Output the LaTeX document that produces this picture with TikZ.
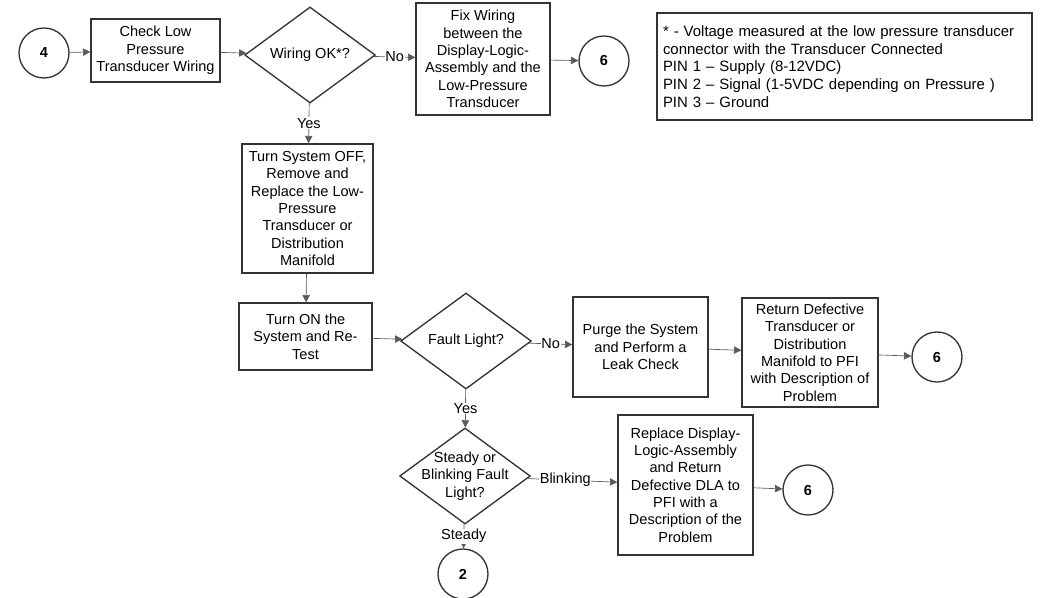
\documentclass[tikz,border=0pt]{standalone}
\usepackage{fontspec}
\setmainfont{Liberation Sans}
\usetikzlibrary{shapes.geometric,arrows.meta}
\begin{document}
\begin{tikzpicture}[x=0.75pt,y=-0.75pt,
  ink/.style={draw=black!80, line width=1pt},
  txt/.style={font=\fontsize{10.9}{13}\selectfont, text=black, align=center},
  stepbox/.style={ink, txt, inner sep=0pt},
  decision/.style={ink, diamond, inner sep=0pt, minimum width=98pt, minimum height=72pt},
  conn/.style={circle, ink, txt, minimum size=37.5pt, inner sep=0pt},
  flow/.style={draw=black!65, line width=0.5pt, -{Triangle[length=5.5pt,width=5.5pt]}},
  lbl/.style={txt, fill=white, inner sep=0.5pt}]
\useasboundingbox (0,0) rectangle (1047,598);

% first row: wiring check
\node[conn] (c4) at (44,53) {\textbf{4}};
\node[stepbox, minimum width=96.75pt, minimum height=47.25pt] (b1) at (155.5,50.5)
  {Check Low\\Pressure\\Transducer Wiring};
\node[decision, label={[txt]center:Wiring OK*?}] (d1) at (310,55) {};
\node[stepbox, minimum width=100.5pt, minimum height=84pt] (fix) at (483,59)
  {Fix Wiring\\between the\\Display-Logic-\\Assembly and the\\Low-Pressure\\Transducer};
\node[conn] (c6a) at (604,61) {\textbf{6}};

% footnote on the measurement
\node[ink, font=\fontsize{11.2}{13.3}\selectfont, text=black, align=left,
  text width=272.25pt, inner xsep=4.5pt, inner ysep=0pt, minimum height=80.25pt]
  (note) at (844.5,66.5)
  {* - Voltage measured at the low pressure transducer\\
   connector with the Transducer Connected\\
   PIN 1 – Supply (8-12VDC)\\
   PIN 2 – Signal (1-5VDC depending on Pressure )\\
   PIN 3 – Ground};

% replacement and retest
\node[stepbox, minimum width=98.25pt, minimum height=96.75pt] (b2) at (307.5,208.5)
  {Turn System OFF,\\Remove and\\Replace the Low-\\Pressure\\Transducer or\\Distribution\\Manifold};
\node[stepbox, minimum width=99.75pt, minimum height=50.25pt] (b3) at (305.5,336.5)
  {Turn ON the\\System and Re-\\Test};
\node[decision, label={[txt]center:Fault Light?}] (d2) at (466,341) {};
\node[stepbox, minimum width=101.25pt, minimum height=75pt] (purge) at (640.5,347)
  {Purge the System\\and Perform a\\Leak Check};
\node[stepbox, minimum width=102pt, minimum height=81.75pt] (ret) at (810,352.5)
  {Return Defective\\Transducer or\\Distribution\\Manifold to PFI\\with Description of\\Problem};
\node[conn] (c6b) at (937,357) {\textbf{6}};

% fault light behaviour
\node[decision, label={[txt]center:{Steady or\\Blinking Fault\\Light?}}] (d3) at (465,476) {};
\node[stepbox, minimum width=101.25pt, minimum height=105pt] (rep) at (685.5,485)
  {Replace Display-\\Logic-Assembly\\and Return\\Defective DLA to\\PFI with a\\Description of the\\Problem};
\node[conn] (c6c) at (808,490) {\textbf{6}};
\node[conn] (c2) at (463,574) {\textbf{2}};

% connectors
\draw[flow] (c4) -- (b1);
\draw[flow] (b1) -- (d1);
\draw[flow] (d1) -- node[lbl]{No} (fix);
\draw[flow] (fix) -- (c6a);
\draw[flow] (d1) -- node[lbl]{Yes} (b2);
\draw[flow] (b2) -- (b3);
\draw[flow] (b3) -- (d2);
\draw[flow] (d2) -- node[lbl]{No} (purge);
\draw[flow] (purge) -- (ret);
\draw[flow] (ret) -- (c6b);
\draw[flow] (d2) -- node[lbl]{Yes} (d3);
\draw[flow] (d3) -- node[lbl, pos=0.42]{Blinking} (rep);
\draw[flow] (rep) -- (c6c);
\draw[flow] (d3) -- node[lbl, pos=0.5]{Steady} (c2);
\end{tikzpicture}
\end{document}
